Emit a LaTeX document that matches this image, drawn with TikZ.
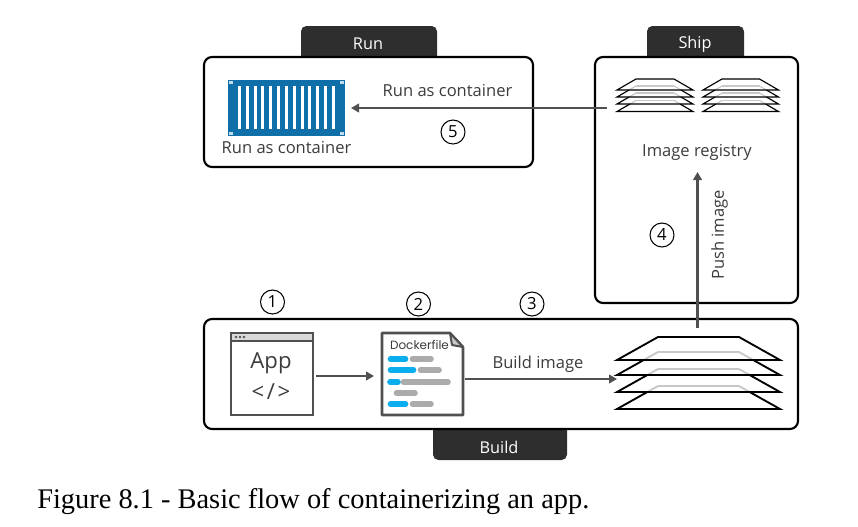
\documentclass[tikz,border=0pt]{standalone}
\usepackage{fontspec}
\setmainfont{Open Sans}
\newfontfamily\capfont{Liberation Serif}
\newfontfamily\dockfont{Poppins}
\usetikzlibrary{arrows.meta}
\definecolor{tabdark}{HTML}{2E2E2E}
\definecolor{txt}{HTML}{3C3C3C}
\definecolor{line}{HTML}{505050}
\definecolor{boxblue}{HTML}{0F6FA8}
\definecolor{barblue}{HTML}{0AAEEF}
\definecolor{bargray}{HTML}{ABABAB}
\definecolor{laygray}{HTML}{C8C8C8}
\tikzset{
  panel/.style={draw=black,fill=white,line width=1.6pt,rounded corners=6pt,inner sep=0pt,outer sep=0pt},
  tabshape/.style={fill=tabdark,rounded corners=4pt},
  tablabel/.style={text=white,font=\fontsize{12.2}{14}\selectfont,inner sep=0pt},
  lab/.style={text=txt,font=\fontsize{12.4}{14}\selectfont,inner sep=0pt},
  flow/.style={draw=line,line width=1.6pt,-{Triangle[length=6pt,width=6.5pt]}},
  num/.style={circle,draw=black,line width=0.8pt,text=black,minimum size=18pt,inner sep=0pt,font=\fontsize{12.5}{14}\selectfont},
  bar/.style={line width=4.2pt,line cap=round},
  win/.style={draw=line,line width=1.9pt}
}
% layer: xl xr inset height base basePrev
\newcommand{\lyr}[7]{%
  \pgfmathsetmacro{\fr}{(#5-#6)/#4}
  \draw[laygray,line width=#7] (#1+#3,#5-#4) -- (#2-#3,#5-#4);
  \draw[laygray,line width=#7] (#1+#3*\fr,#6) -- (#1+#3,#5-#4) (#2-#3*\fr,#6) -- (#2-#3,#5-#4);
  \draw[black,line width=#7,line join=miter] (#1+#3*\fr,#6) -- (#1,#5) -- (#2,#5) -- (#2-#3*\fr,#6);
}
\newcommand{\lyrtop}[6]{%
  \draw[black,line width=#6,line join=miter] (#1,#5) -- (#1+#3,#5-#4) -- (#2-#3,#5-#4) -- (#2,#5) -- cycle;
}
\newcommand{\smallstack}[2]{%
  \lyr{#1}{#2}{19}{11}{111.5}{104}{.85pt}
  \lyr{#1}{#2}{19}{11}{104}{97}{.85pt}
  \lyr{#1}{#2}{19}{11}{97}{90}{.85pt}
  \lyrtop{#1}{#2}{19}{11}{90}{.85pt}
}
\begin{document}
\begin{tikzpicture}[x=0.75pt,y=-0.75pt]
\useasboundingbox (0,0) rectangle (858,526);
% tabs behind the panels
\path[tabshape] (301,26) rectangle (437,70);
\path[tabshape] (647,26) rectangle (744,70);
\path[tabshape] (433,410) rectangle (567,460);
% panels
\node[panel,minimum width=329*.75pt,minimum height=110*.75pt] (runbox) at (368.5,112) {};
\node[panel,minimum width=203*.75pt,minimum height=246*.75pt] (shipbox) at (696.5,180) {};
\node[panel,minimum width=594*.75pt,minimum height=110*.75pt] (buildbox) at (501,374) {};
\node[tablabel] (runtab) at (368,43.5) {Run};
\node[tablabel] (shiptab) at (695,44) {Ship};
\node[tablabel] (buildtab) at (499,447) {Build};
% container
\fill[boxblue] (228,80) rectangle (345,136);
\foreach \i in {0,...,12}
  \fill[white] (237.8+\i*7.85,86) rectangle (240.8+\i*7.85,129);
\foreach \x/\y in {229/81,340/81,229/132,340/132}
  \fill[white!75!boxblue] (\x,\y) rectangle (\x+4,\y+3);
\coordinate (containerend) at (351,108);
\node[lab] (containerlab) at (286.5,148) {Run as container};
% registry stacks
\smallstack{617}{693}
\smallstack{703}{778.5}
\coordinate (regout) at (607,108);
\node[lab] (reglab) at (697,152) {Image registry};
\coordinate (regin) at (697.5,172);
\node[lab] (runlab) at (447.5,91) {Run as container};
\node[lab,rotate=90] (pushlab) at (719.5,235) {Push image};
% app window
\draw[win,fill=white] (231,333) rectangle (313,415);
\draw[win,fill=laygray!70] (231,333) rectangle (313,341);
\foreach \x in {236,240,244}\fill[line] (\x,337) circle (1pt);
\node[text=txt,font=\fontsize{16.6}{20}\selectfont,inner sep=0pt] (applab) at (271,363) {App};
\node[text=txt,font=\fontsize{16.6}{20}\selectfont,inner sep=0pt] (codelab) at (271,392) {<\kern2pt/\kern2pt>};
\coordinate (appout) at (316,376);
% dockerfile
\draw[win,fill=white,line join=round] (382,333) -- (450,333) -- (463,347) -- (463,415) -- (382,415) -- cycle;
\draw[draw=line,fill=laygray,line width=1.5pt,line join=round] (450,333) -- (452,345) -- (463,347) -- cycle;
\node[text=txt,font=\dockfont\fontsize{9}{10}\selectfont,inner sep=0pt] (dockerlab) at (419.5,345) {Dockerfile};
\foreach \y/\a/\b/\c/\d in {359/390.5/405.5/412.5/431, 370/390.5/413.5/420.5/439, 382/390/398/403.5/448, 404/390.5/405.5/412.5/431}{
  \draw[bar,barblue] (\a,\y) -- (\b,\y);
  \draw[bar,bargray] (\c,\y) -- (\d,\y);
}
\draw[bar,bargray] (396.5,393) -- (415,393);
\coordinate (dockerout) at (465,379);
% big stack
\lyr{617}{780}{41}{23}{409}{392}{1.4pt}
\lyr{617}{780}{41}{23}{392}{375}{1.4pt}
\lyr{617}{780}{41}{23}{375}{360}{1.4pt}
\lyrtop{617}{780}{41}{23}{360}{1.4pt}
\coordinate (stackin) at (617,379);
\coordinate (stackout) at (697.5,328);
\node[lab] (buildlab) at (538,364) {Build image};
% connectors
\draw[flow] (regout) -- (containerend);
\draw[flow] (stackout) -- (regin);
\draw[flow] (appout) -- (374,376) coordinate (dockerin);
\draw[flow] (dockerout) -- (stackin);
% numbers
\node[num] (n1) at (272.5,302) {1};
\node[num] (n2) at (418.5,304) {2};
\node[num] (n3) at (532,304) {3};
\node[num] (n4) at (662,235) {4};
\node[num] (n5) at (453,132) {5};
% caption
\node[anchor=base west,inner sep=0pt,text=black,font=\capfont\fontsize{21.3}{24}\selectfont] (caption) at (37,508) {Figure 8.1 - Basic flow of containerizing an app.};
\end{tikzpicture}
\end{document}
